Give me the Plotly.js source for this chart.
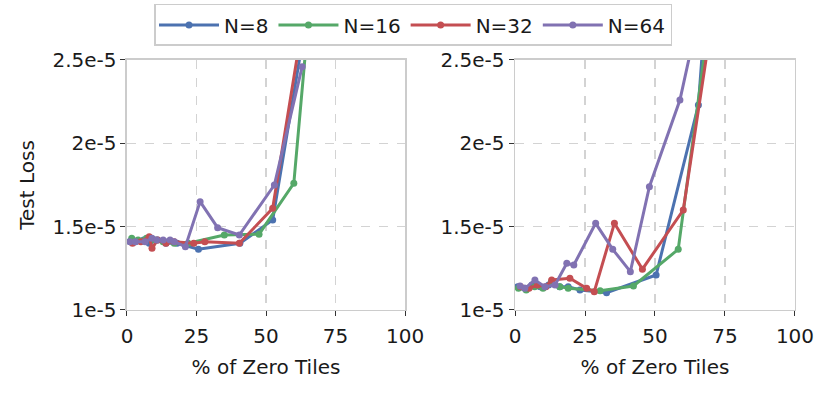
<!DOCTYPE html>
<html>
<head>
<meta charset="utf-8">
<script src="https://cdn.plot.ly/plotly-3.0.1.min.js"></script>
<style>
  html, body { margin: 0; padding: 0; background: #fff; }
  #myDiv { width: 830px; height: 396px; }
</style>
</head>
<body>
<div id="myDiv"></div>
<script>
// test loss values are in units of 1e-5
var seriesNames = ['N=8', 'N=16', 'N=32', 'N=64'];
var colors = ['#4c72b0', '#55a868', '#c44e52', '#8172b2'];

// left panel
var leftX8 = [1, 3, 6, 8, 11, 14, 18, 25.7, 40.6, 52.4, 63];
var leftY8 = [1.41, 1.41, 1.42, 1.40, 1.42, 1.40, 1.40, 1.365, 1.40, 1.54, 2.6];
var leftX16 = [1.7, 4, 7, 10, 13, 17, 22, 35, 47.5, 60, 65];
var leftY16 = [1.43, 1.42, 1.43, 1.42, 1.41, 1.40, 1.40, 1.45, 1.455, 1.76, 2.7];
var leftX32 = [2, 5, 8, 9, 11, 14, 17, 24, 28, 40.4, 52.4, 62];
var leftY32 = [1.40, 1.41, 1.44, 1.37, 1.42, 1.40, 1.41, 1.40, 1.41, 1.40, 1.61, 2.6];
var leftX64 = [1, 3, 6.5, 9, 10.7, 13, 15.5, 17, 21, 26.3, 32.6, 40.4, 53, 63];
var leftY64 = [1.41, 1.41, 1.41, 1.43, 1.42, 1.42, 1.42, 1.41, 1.38, 1.65, 1.494, 1.45, 1.75, 2.46];

// right panel
var rightX8 = [1, 3.5, 6, 9, 12, 16, 19, 23.2, 32.7, 50.4, 65.5, 68];
var rightY8 = [1.14, 1.13, 1.15, 1.14, 1.15, 1.14, 1.14, 1.12, 1.104, 1.21, 2.23, 2.8];
var rightX16 = [1.2, 4, 7, 10, 13, 16, 19, 30.4, 42.3, 58.3, 69];
var rightY16 = [1.13, 1.12, 1.14, 1.13, 1.17, 1.14, 1.13, 1.116, 1.144, 1.364, 2.7];
var rightX32 = [2, 5, 8, 11, 13.1, 19.6, 25.6, 28.3, 35.5, 45.5, 60.1, 70];
var rightY32 = [1.14, 1.13, 1.15, 1.14, 1.18, 1.19, 1.13, 1.11, 1.52, 1.245, 1.60, 2.7];
var rightX64 = [1.8, 3.5, 7.1, 10.7, 14.3, 18.5, 21, 28.8, 34.9, 41.2, 48, 58.9, 64];
var rightY64 = [1.144, 1.13, 1.18, 1.14, 1.15, 1.28, 1.27, 1.52, 1.364, 1.23, 1.74, 2.26, 2.65];

var yTickVals = [1, 1.5, 2, 2.5];
var yTickText = ['1e-5', '1.5e-5', '2e-5', '2.5e-5'];
var xTickVals = [0, 25, 50, 75, 100];

var leftX = [leftX8, leftX16, leftX32, leftX64];
var leftY = [leftY8, leftY16, leftY32, leftY64];
var rightX = [rightX8, rightX16, rightX32, rightX64];
var rightY = [rightY8, rightY16, rightY32, rightY64];

var data = [];
for (var i = 0; i < 4; i++) {
  data.push({
    x: leftX[i], y: leftY[i], xaxis: 'x', yaxis: 'y',
    mode: 'lines+markers', type: 'scatter', name: seriesNames[i],
    line: { color: colors[i], width: 3 },
    marker: { color: colors[i], size: 7 },
    legendgroup: seriesNames[i]
  });
}
for (var j = 0; j < 4; j++) {
  data.push({
    x: rightX[j], y: rightY[j], xaxis: 'x2', yaxis: 'y2',
    mode: 'lines+markers', type: 'scatter', name: seriesNames[j],
    line: { color: colors[j], width: 3 },
    marker: { color: colors[j], size: 7 },
    legendgroup: seriesNames[j], showlegend: false
  });
}

var font = { family: '"DejaVu Sans", sans-serif', size: 20, color: '#1a1a1a' };

function xAxis(domain, anchor) {
  return {
    domain: domain, anchor: anchor, range: [0, 100],
    tickvals: xTickVals, ticks: 'outside', ticklen: 5, tickcolor: '#333',
    ticklabelstandoff: 3,
    showgrid: true, gridcolor: '#d3d3d3', griddash: 'dash', gridwidth: 1.2,
    showline: true, linecolor: '#cccccc', linewidth: 1.5, mirror: true,
    zeroline: false, tickfont: font,
    title: { text: '% of Zero Tiles', font: font, standoff: 12 }
  };
}
function yAxis(anchor, withTitle) {
  var ax = {
    domain: [0.2172, 0.8485], anchor: anchor, range: [1, 2.5],
    tickvals: yTickVals, ticktext: yTickText,
    ticks: 'outside', ticklen: 5, tickcolor: '#333',
    showgrid: true, gridcolor: '#d3d3d3', griddash: 'dash', gridwidth: 1.2,
    showline: true, linecolor: '#cccccc', linewidth: 1.5, mirror: true,
    zeroline: false, tickfont: font
  };
  if (withTitle) ax.title = { text: 'Test Loss', font: font, standoff: 12 };
  return ax;
}

var layout = {
  width: 830, height: 396,
  margin: { l: 0, r: 0, t: 0, b: 0 },
  paper_bgcolor: '#ffffff', plot_bgcolor: '#ffffff',
  font: font,
  showlegend: true,
  legend: {
    orientation: 'h', x: 0.4976, xanchor: 'center', y: 0.99, yanchor: 'top',
    bordercolor: '#cccccc', borderwidth: 1.5, bgcolor: '#ffffff',
    font: { family: font.family, size: 20, color: '#1a1a1a' },
    itemwidth: 60, tracegroupgap: 0
  },
  xaxis: xAxis([0.1530, 0.4880], 'y'),
  yaxis: yAxis('x', true),
  xaxis2: xAxis([0.6205, 0.9578], 'y2'),
  yaxis2: yAxis('x2', false)
};

Plotly.newPlot('myDiv', data, layout, { displayModeBar: false, staticPlot: true });
</script>
</body>
</html>
